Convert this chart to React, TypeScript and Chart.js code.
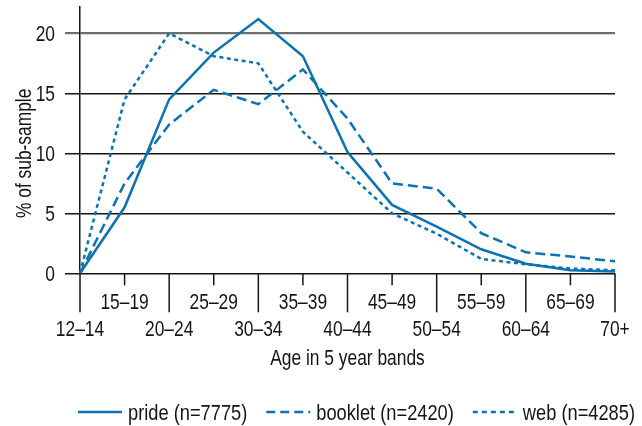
import React, { useEffect, useRef } from "react";
import { Chart, registerables } from "chart.js";

Chart.register(...registerables);

const categories = ["12–14", "15–19", "20–24", "25–29", "30–34", "35–39", "40–44", "45–49", "50–54", "55–59", "60–64", "65–69", "70+"];
const pride = [0, 5.5, 14.5, 18.4, 21.2, 18.1, 10.1, 5.7, 3.9, 2.0, 0.8, 0.25, 0.15];
const booklet = [0, 7.5, 12.4, 15.3, 14.1, 17.0, 12.9, 7.5, 7.05, 3.35, 1.75, 1.4, 1.0];
const web = [0, 14.5, 20.0, 18.1, 17.5, 11.8, 8.4, 5.0, 3.3, 1.2, 0.75, 0.4, 0.25];
const yTicks = [0, 5, 10, 15, 20];
const seriesLabels = ["pride (n=7775)", "booklet (n=2420)", "web (n=4285)"];
const xTitle = "Age in 5 year bands";
const yTitle = "% of sub-sample";

const FONT = "22px 'Liberation Sans', Arial, sans-serif";
const SX = 0.79; // horizontal condensing of axis text
const SX_LEG = 0.83; // horizontal condensing of legend text
const BLUE = "#0b72b3";
const INK = "#151515";

function drawText(ctx: any, s: string, x: number, y: number, align: string, sx: number = SX) {
  ctx.save();
  ctx.translate(x, y);
  ctx.scale(sx, 1);
  ctx.textAlign = align;
  ctx.textBaseline = "alphabetic";
  ctx.fillText(s, 0, 0);
  ctx.restore();
}

const axisPlugin = {
  id: "customAxis",
  afterDraw(chart: any) {
    const ctx = chart.ctx;
    const xs = chart.scales.x;
    const ys = chart.scales.y;
    const area = chart.chartArea;
    const y0 = area.bottom;
    ctx.save();
    ctx.strokeStyle = INK;
    ctx.lineWidth = 1.5;
    ctx.fillStyle = INK;
    ctx.font = FONT;
    // x ticks + labels
    categories.forEach((lab, i) => {
      const px = xs.getPixelForValue(i);
      const long = i % 2 === 0;
      ctx.beginPath();
      ctx.moveTo(px, y0);
      ctx.lineTo(px, y0 + (long ? 39 : 12));
      ctx.stroke();
      drawText(ctx, lab, px, y0 + (long ? 63 : 36), "center");
    });
    // x title
    drawText(ctx, xTitle, (area.left + area.right) / 2, y0 + 92, "center");
    // y tick labels
    yTicks.forEach((v) => {
      drawText(ctx, String(v), area.left - 25, ys.getPixelForValue(v) + 8, "right");
    });
    // y title
    const cy = (ys.getPixelForValue(0) + ys.getPixelForValue(20)) / 2;
    ctx.save();
    ctx.translate(31, cy);
    ctx.rotate(-Math.PI / 2);
    drawText(ctx, yTitle, 0, 0, "center");
    ctx.restore();
    // legend
    let lx = area.left - 2;
    const ly = 412;
    chart.data.datasets.forEach((ds: any) => {
      ctx.save();
      ctx.strokeStyle = ds.borderColor;
      ctx.lineWidth = ds.borderWidth;
      ctx.setLineDash(ds.legendDash || []);
      ctx.beginPath();
      ctx.moveTo(lx, ly);
      ctx.lineTo(lx + 44, ly);
      ctx.stroke();
      ctx.restore();
      lx += 44 + 6;
      drawText(ctx, ds.label, lx, 420, "left", SX_LEG);
      lx += ctx.measureText(ds.label).width * SX_LEG + 19;
    });
    ctx.restore();
  },
};

export default function App() {
  const ref = useRef<HTMLCanvasElement | null>(null);
  useEffect(() => {
    if (!ref.current) return;
    const mk = (label: string, data: number[], dash: number[], legendDash: number[]) => ({
      label,
      data,
      borderColor: BLUE,
      backgroundColor: BLUE,
      borderWidth: 2.5,
      borderDash: dash,
      legendDash,
      borderCapStyle: "butt",
      pointRadius: 0,
      pointHoverRadius: 0,
      tension: 0,
      fill: false,
    });
    const chart = new Chart(ref.current, {
      type: "line",
      data: {
        labels: categories,
        datasets: [
          mk(seriesLabels[0], pride, [], []),
          mk(seriesLabels[1], booklet, [10, 5], [9, 5]),
          mk(seriesLabels[2], web, [4, 3.5], [5, 4]),
        ] as any,
      },
      options: {
        animation: false,
        responsive: true,
        maintainAspectRatio: false,
        layout: { padding: { top: 7, right: 27, left: 0, bottom: 0 } },
        plugins: {
          tooltip: { enabled: false },
          title: { display: false },
          legend: { display: false },
        },
        scales: {
          x: {
            type: "category",
            offset: false,
            ticks: { display: false },
            grid: { display: false },
            border: { display: false },
            afterFit: (s: any) => {
              s.height = 152.7;
            },
          },
          y: {
            min: 0,
            max: 22.2,
            afterFit: (s: any) => {
              s.width = 80;
            },
            afterBuildTicks: (s: any) => {
              s.ticks = yTicks.map((v) => ({ value: v }));
            },
            ticks: { display: false },
            grid: {
              drawTicks: true,
              tickLength: 15,
              color: (c: any) => (c.tick && c.tick.value === 20 ? "#6e6e6e" : INK),
              lineWidth: (c: any) => (c.tick && c.tick.value === 20 ? 2.2 : 1.5),
            },
            border: { display: true, color: INK, width: 1.5 },
          },
        },
      } as any,
      plugins: [axisPlugin],
    });
    return () => chart.destroy();
  }, []);
  return (
    <div style={{ position: "fixed", left: 0, top: 0, width: 642, height: 426 }}>
      <canvas ref={ref} />
    </div>
  );
}
